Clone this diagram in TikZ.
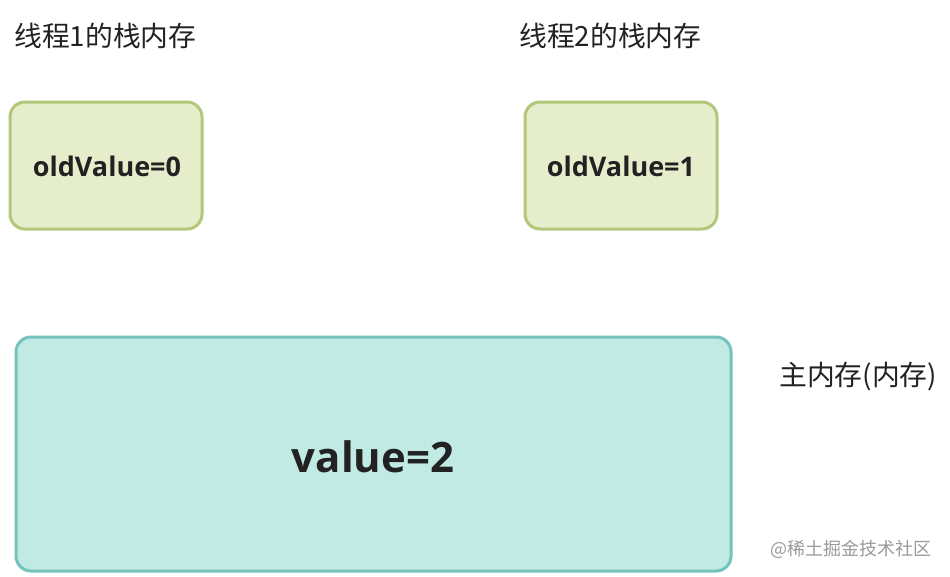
\documentclass[tikz,border=0pt]{standalone}
\usepackage{fontspec}
\setmainfont{Open Sans}
\newfontfamily\valfont{Open Sans}[BoldFont={Open Sans Bold}]
\newfontfamily\cjk{Noto Sans CJK SC}
\definecolor{gfill}{HTML}{E5EDCB}
\definecolor{gdraw}{HTML}{B3C77A}
\definecolor{tfill}{HTML}{C2EAE4}
\definecolor{tdraw}{HTML}{74C3BC}
\definecolor{txt}{HTML}{222222}
\definecolor{wm}{HTML}{9A9A9A}
\begin{document}
\begin{tikzpicture}[x=1pt,y=-1pt,
  stackbox/.style={draw=gdraw,fill=gfill,line width=3pt,rounded corners=15pt},
  mainbox/.style={draw=tdraw,fill=tfill,line width=3pt,rounded corners=15pt},
  lbl/.style={font=\cjk\fontsize{27.8}{32}\selectfont,text=txt,inner sep=0pt,anchor=west},
  val/.style={font=\valfont\bfseries\fontsize{27}{32}\selectfont,text=txt}]
\useasboundingbox (0,0) rectangle (950,576);
\fill[white] (0,0) rectangle (950,576);
\node[lbl] (l1) at (14,36) {线程1的栈内存};
\node[lbl] (l2) at (519,36) {线程2的栈内存};
\draw[stackbox] (10,102) rectangle (202,229);
\node[val] (v1) at (107,166) {oldValue=0};
\draw[stackbox] (525,102) rectangle (717,229);
\node[val] (v2) at (621,166) {oldValue=1};
\draw[mainbox] (16,337) rectangle (731,571);
\node[font=\valfont\bfseries\fontsize{41.9}{48}\selectfont,text=txt] (v3) at (373,457) {value=2};
\node[lbl] (l3) at (779,377) {主内存(内存)};
\node[font=\cjk\fontsize{18}{22}\selectfont,text=wm,inner sep=0pt,anchor=west] (wm) at (770,549) {@稀土掘金技术社区};
\end{tikzpicture}
\end{document}
